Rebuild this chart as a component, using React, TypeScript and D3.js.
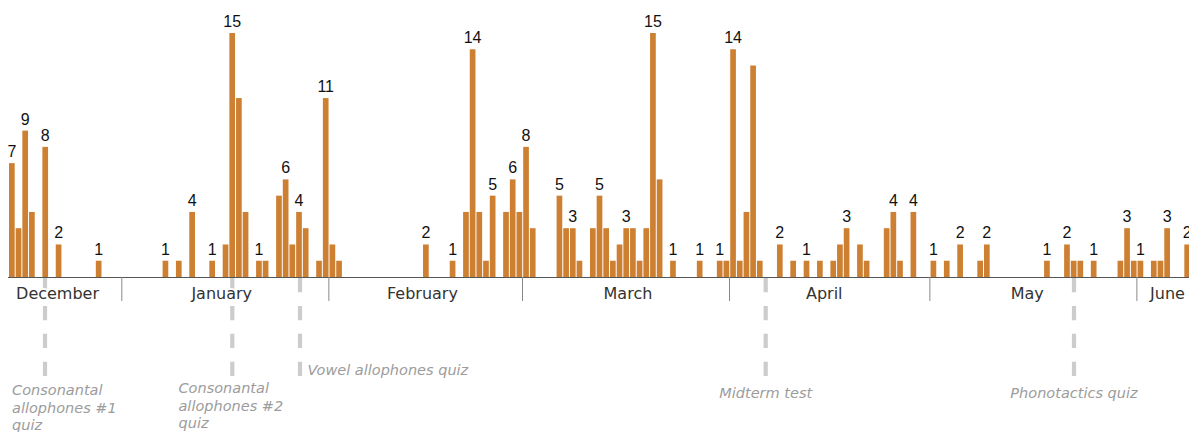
import React from "react";
import * as d3 from "d3";

// ---- data ----
const dates = [
  "2019-12-15","2019-12-16","2019-12-17","2019-12-18","2019-12-20","2019-12-22","2019-12-28",
  "2020-01-07","2020-01-09","2020-01-11","2020-01-14","2020-01-16","2020-01-17","2020-01-18","2020-01-19",
  "2020-01-21","2020-01-22","2020-01-24","2020-01-25","2020-01-26","2020-01-27","2020-01-28","2020-01-30","2020-01-31",
  "2020-02-01","2020-02-02","2020-02-15","2020-02-19","2020-02-21","2020-02-22","2020-02-23","2020-02-24","2020-02-25",
  "2020-02-27","2020-02-28","2020-02-29",
  "2020-03-01","2020-03-02","2020-03-06","2020-03-07","2020-03-08","2020-03-09","2020-03-11","2020-03-12","2020-03-13",
  "2020-03-14","2020-03-15","2020-03-16","2020-03-17","2020-03-18","2020-03-19","2020-03-20","2020-03-21","2020-03-23",
  "2020-03-27","2020-03-30","2020-03-31",
  "2020-04-01","2020-04-02","2020-04-03","2020-04-04","2020-04-05","2020-04-08","2020-04-10","2020-04-12","2020-04-14",
  "2020-04-16","2020-04-17","2020-04-18","2020-04-20","2020-04-21","2020-04-24","2020-04-25","2020-04-26","2020-04-28",
  "2020-05-01","2020-05-03","2020-05-05","2020-05-08","2020-05-09","2020-05-18","2020-05-21","2020-05-22","2020-05-23",
  "2020-05-25","2020-05-29","2020-05-30","2020-05-31",
  "2020-06-01","2020-06-03","2020-06-04","2020-06-05","2020-06-08",
];
const counts = [
  7,3,9,4,8,2,1,
  1,1,4,1,2,15,11,4,
  1,1,5,6,2,4,3,1,11,
  2,1,2,1,4,14,4,1,5,
  4,6,4,
  8,3,5,3,3,1,3,5,3,
  1,2,3,3,1,3,15,6,1,
  1,1,1,
  14,1,4,13,1,2,1,1,1,
  1,2,3,2,1,3,4,1,4,
  1,1,2,1,2,1,2,1,1,
  1,1,3,1,
  1,1,1,3,2,
];
const labeledDates = [
  "2019-12-15","2019-12-17","2019-12-20","2019-12-22","2019-12-28",
  "2020-01-07","2020-01-11","2020-01-14","2020-01-17","2020-01-21","2020-01-25","2020-01-27","2020-01-31",
  "2020-02-15","2020-02-19","2020-02-22","2020-02-25","2020-02-28",
  "2020-03-01","2020-03-06","2020-03-08","2020-03-12","2020-03-16","2020-03-20","2020-03-23","2020-03-27","2020-03-30",
  "2020-04-01","2020-04-08","2020-04-12","2020-04-18","2020-04-25","2020-04-28",
  "2020-05-01","2020-05-05","2020-05-09","2020-05-18","2020-05-21","2020-05-25","2020-05-30",
  "2020-06-01","2020-06-05","2020-06-08",
];
const monthLabels = ["December","January","February","March","April","May","June"];
const monthLabelDates = [
  "2019-12-22T09:00:00Z","2020-01-15T23:00:00Z","2020-02-15T00:30:00Z","2020-03-16T19:00:00Z",
  "2020-04-15T04:30:00Z","2020-05-15T14:00:00Z","2020-06-05T14:00:00Z",
];
const eventDates = [
  "2019-12-20T12:00:00Z","2020-01-17T13:00:00Z","2020-01-27T16:20:00Z","2020-04-06T10:00:00Z","2020-05-22T14:00:00Z",
];
const eventLabels = [
  ["Consonantal","allophones #1","quiz"],
  ["Consonantal","allophones #2","quiz"],
  ["Vowel allophones quiz"],
  ["Midterm test"],
  ["Phonotactics quiz"],
];

// ---- layout (styles / positions) ----
const W = 1189, H = 432;
const PITCH = 6.678;
const X0 = 8.3;
const BASE = 277;
const eventLayout = [
  { anchor: "start", dx: -33, y: 395 },
  { anchor: "start", dx: -53.8, y: 393.3 },
  { anchor: "start", dx: 7.5, y: 375 },
  { anchor: "middle", dx: 0, y: 397.7 },
  { anchor: "middle", dx: 0, y: 397.7 },
];

const parse = (s: string) => new Date(s.length <= 10 ? s + "T00:00:00Z" : s);

export default function App() {
  const start = new Date(Date.UTC(2019, 11, 15));
  const end = new Date(Date.UTC(2020, 5, 1));
  const nDays = d3.utcDay.count(start, end);
  const x = d3.scaleUtc().domain([start, end]).range([X0, X0 + nDays * PITCH]);
  const y = d3.scaleLinear().domain([0, 15]).range([BASE, 33]);
  const monthTicks = d3.utcMonth.range(d3.utcMonth.ceil(start), d3.utcMonth.offset(end, 1));
  const labeled = new Set(labeledDates);
  const bronze = "#cd7f32";

  return (
    <svg width={W} height={H} style={{ display: "block" }}>
      <style>{`body{margin:0;overflow:hidden}`}</style>
      <g>
        {dates.map((d, i) => {
          const dx = x(parse(d));
          return (
            <rect key={d} x={dx + 0.7} y={y(counts[i])} width={PITCH - 1} height={BASE - y(counts[i])} fill={bronze} />
          );
        })}
      </g>
      <line x1={8} x2={W} y1={BASE + 0.5} y2={BASE + 0.5} stroke="#555" strokeWidth={1} />
      {monthTicks.map((t) => (
        <line key={+t} x1={x(t)} x2={x(t)} y1={BASE} y2={301} stroke="#888" strokeWidth={1} />
      ))}
      {eventDates.map((d, i) => {
        const ex = x(parse(d));
        return (
          <line key={d} x1={ex} x2={ex} y1={278} y2={377} stroke="#cccccc" strokeWidth={4.2} strokeDasharray="14.3 13.6" />
        );
      })}
      {monthLabels.map((m, i) => (
        <text
          key={m}
          x={x(parse(monthLabelDates[i]))}
          y={299}
          textAnchor="middle"
          fontFamily="'DejaVu Sans', Verdana, sans-serif"
          fontSize={16}
          fill="#333"
          stroke="#fff"
          strokeWidth={4}
          paintOrder="stroke"
          strokeLinejoin="round"
        >
          {m}
        </text>
      ))}
      {dates.map((d, i) =>
        labeled.has(d) ? (
          <text
            key={"l" + d}
            x={x(parse(d)) + 0.7 + (PITCH - 1) / 2}
            y={y(counts[i]) - 6}
            textAnchor="middle"
            fontFamily="'Liberation Sans', Arial, Helvetica, sans-serif"
            fontSize={16}
            fill="#111"
          >
            {counts[i]}
          </text>
        ) : null
      )}
      {eventDates.map((d, i) => {
        const ex = x(parse(d));
        const L = eventLayout[i];
        return (
          <text
            key={"e" + d}
            x={ex + L.dx}
            y={L.y}
            textAnchor={L.anchor as any}
            fontFamily="'DejaVu Sans', Verdana, sans-serif"
            fontStyle="italic"
            fontSize={14.5}
            fill="#9c9c9c"
          >
            {eventLabels[i].map((line, j) => (
              <tspan key={j} x={ex + L.dx} dy={j === 0 ? 0 : 17.5}>
                {line}
              </tspan>
            ))}
          </text>
        );
      })}
    </svg>
  );
}
